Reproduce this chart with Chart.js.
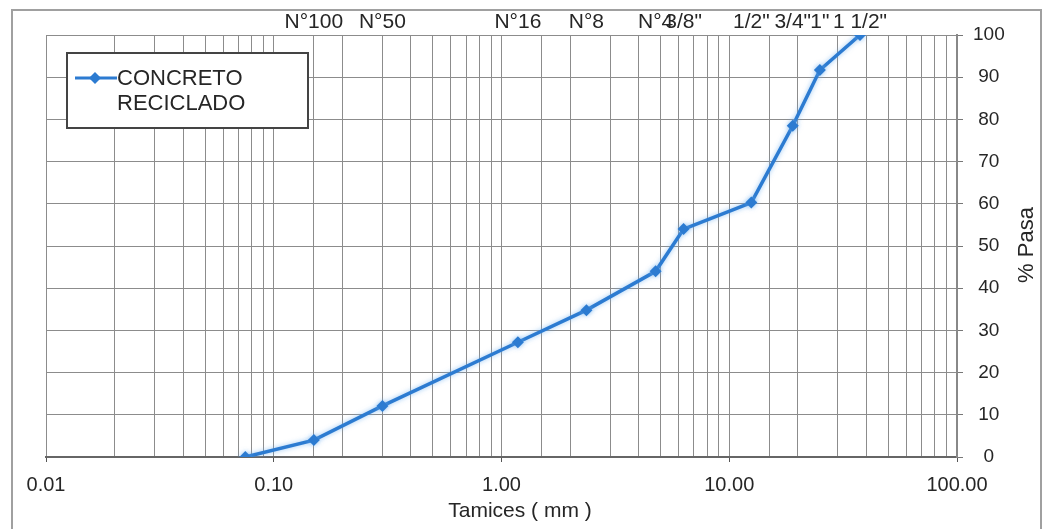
<!DOCTYPE html>
<html>
<head>
<meta charset="utf-8">
<script src="https://cdn.jsdelivr.net/npm/chart.js@4/dist/chart.umd.min.js"></script>
<style>
  html, body { margin: 0; padding: 0; background: #fff; }
  #wrap { width: 1046px; height: 529px; position: relative; }
</style>
</head>
<body>
<div id="wrap"><canvas id="chart-grading"></canvas></div>
<script>
// sieve openings (mm) as plotted, and the names written on top
const sieveSizes = [0.075, 0.15, 0.3, 1.18, 2.36, 4.75, 6.3, 12.5, 19, 25, 37.5];
const sieveNames = ['', 'N°100', 'N°50', 'N°16', 'N°8', 'N°4', '3/8"', '1/2"', '3/4"', '1"', '1 1/2"'];
const percentPassing = [0, 4, 12.1, 27.2, 34.8, 44, 54, 60.3, 78.5, 91.7, 100];
const yTicks = [0, 10, 20, 30, 40, 50, 60, 70, 80, 90, 100];
const seriesLines = ['CONCRETO', 'RECICLADO'];
const xTitle = 'Tamices ( mm )';
const yTitle = '% Pasa';

window.addEventListener('DOMContentLoaded', () => {
  const ctx = document.getElementById('chart-grading');
  const lineColor = '#2c7bd1';
  const gridColor = '#8c8c8c';
  const textColor = '#262626';
  const family = '"Liberation Sans", Arial, sans-serif';

  Chart.defaults.font.family = family;
  Chart.defaults.color = textColor;

  const isDecade = (v) => Math.abs(Math.log10(v) - Math.round(Math.log10(v))) < 1e-6;

  const pagePlugin = {
    id: 'page',
    beforeDraw(chart) {
      const c = chart.ctx;
      c.save();
      c.fillStyle = '#fff';
      c.fillRect(0, 0, chart.width, chart.height);
      c.strokeStyle = '#a0a0a0';
      c.lineWidth = 2;
      c.strokeRect(12, 10, 1029, 540);
      c.restore();
    },
    beforeDatasetsDraw(chart) {
      chart.ctx.save();
      chart.ctx.shadowColor = 'rgba(110, 175, 240, 0.7)';
      chart.ctx.shadowBlur = 5;
    },
    afterDatasetsDraw(chart) {
      chart.ctx.restore();
    },
    afterDraw(chart) {
      const c = chart.ctx;
      const ds = chart.data.datasets[0];
      c.save();
      // legend box
      c.fillStyle = '#fff';
      c.fillRect(67, 53, 241, 75);
      c.strokeStyle = '#444';
      c.lineWidth = 2;
      c.strokeRect(67, 53, 241, 75);
      c.strokeStyle = ds.borderColor;
      c.lineWidth = 3;
      c.beginPath();
      c.moveTo(75, 78);
      c.lineTo(117, 78);
      c.stroke();
      c.fillStyle = ds.borderColor;
      c.beginPath();
      c.moveTo(95, 72);
      c.lineTo(101, 78);
      c.lineTo(95, 84);
      c.lineTo(89, 78);
      c.closePath();
      c.fill();
      c.fillStyle = textColor;
      c.font = '22px ' + family;
      c.textBaseline = 'middle';
      c.textAlign = 'left';
      seriesLines.forEach((t, i) => c.fillText(t, 117, 79 + i * 25));
      // x axis title, a little right of the plot centre as in the source
      c.textAlign = 'center';
      c.font = '21px ' + family;
      c.fillText(xTitle, 520, 511);
      // right axis title, reading upwards
      c.translate(1027, 245);
      c.rotate(-Math.PI / 2);
      c.font = '22px ' + family;
      c.fillText(yTitle, 0, 0);
      c.restore();
    }
  };

  new Chart(ctx, {
    type: 'line',
    data: {
      datasets: [{
        label: seriesLines.join(' '),
        data: sieveSizes.map((x, i) => ({ x: x, y: percentPassing[i] })),
        borderColor: lineColor,
        backgroundColor: lineColor,
        borderWidth: 3.5,
        pointStyle: 'rectRot',
        pointRadius: 6,
        pointBorderWidth: 0,
        tension: 0
      }]
    },
    options: {
      responsive: true,
      maintainAspectRatio: false,
      animation: false,
      layout: { padding: { left: 46, right: 0, top: 0, bottom: 0 } },
      plugins: {
        legend: { display: false },
        tooltip: { enabled: false }
      },
      scales: {
        x: {
          type: 'logarithmic',
          position: 'bottom',
          min: 0.01,
          max: 100,
          afterFit: (scale) => { scale.height = 72; },
          grid: {
            color: gridColor,
            lineWidth: 1,
            tickLength: 5,
            tickColor: (c) => (c.tick && isDecade(c.tick.value)) ? '#555' : 'rgba(0,0,0,0)'
          },
          border: { color: '#666', width: 2 },
          ticks: {
            autoSkip: false,
            maxRotation: 0,
            minRotation: 0,
            padding: 11,
            font: { size: 20 },
            color: textColor,
            callback: (v) => isDecade(v) ? Number(v).toFixed(2) : ''
          },
          title: { display: false, text: xTitle }
        },
        sieves: {
          type: 'logarithmic',
          position: 'top',
          min: 0.01,
          max: 100,
          afterFit: (scale) => { scale.height = 35; },
          afterBuildTicks: (scale) => {
            scale.ticks = sieveSizes.map((v) => ({ value: v }));
          },
          grid: { display: false, drawTicks: false },
          border: { display: false },
          ticks: {
            autoSkip: false,
            maxRotation: 0,
            minRotation: 0,
            padding: 0,
            font: { size: 21 },
            color: textColor,
            callback: (v, i) => sieveNames[i]
          }
        },
        y: {
          type: 'linear',
          position: 'right',
          min: 0,
          max: 100,
          afterFit: (scale) => { scale.width = 89; },
          afterBuildTicks: (scale) => {
            scale.ticks = yTicks.map((v) => ({ value: v }));
          },
          grid: { color: gridColor, lineWidth: 1, tickLength: 6, tickColor: '#777' },
          border: { color: '#888', width: 2 },
          ticks: {
            crossAlign: 'center',
            padding: 10,
            font: { size: 19 },
            color: textColor
          }
        }
      }
    },
    plugins: [pagePlugin]
  });
});
</script>
</body>
</html>
